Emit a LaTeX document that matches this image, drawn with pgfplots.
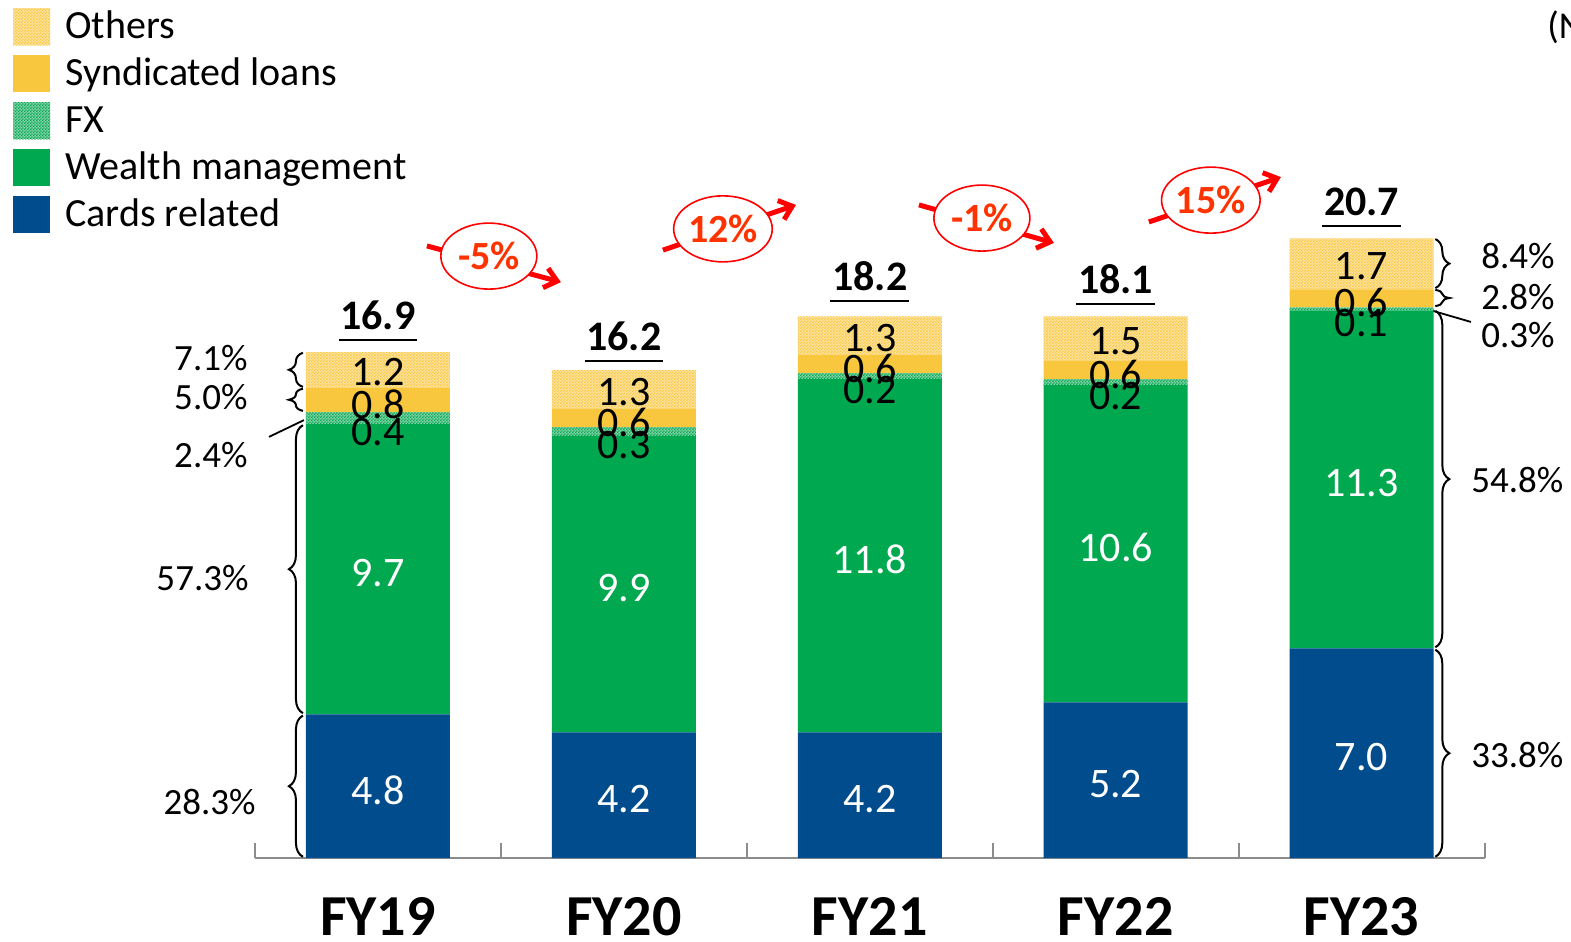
\documentclass[border=0pt]{standalone}
\usepackage{fontspec}
\setmainfont{Carlito}
\usepackage{pgfplots}
\usepackage{pgfplotstable}
\pgfplotsset{compat=1.18}
\usetikzlibrary{patterns,decorations.pathreplacing,arrows.meta,shapes.geometric}

\definecolor{cardblue}{HTML}{004C8C}
\definecolor{wmgreen}{HTML}{00A84F}
\definecolor{syndyel}{HTML}{F9C73D}
\definecolor{othlight}{HTML}{FBE4A6}
\definecolor{fxlight}{HTML}{86D2A8}
\definecolor{arrred}{HTML}{FF0000}
\definecolor{txtred}{HTML}{FF3300}
\definecolor{axgray}{HTML}{8C8C8C}

\pgfdeclarepatternformonly{checker}{\pgfqpoint{0pt}{0pt}}{\pgfqpoint{1.6pt}{1.6pt}}{\pgfqpoint{1.6pt}{1.6pt}}{%
  \pgfpathrectangle{\pgfqpoint{0pt}{0pt}}{\pgfqpoint{0.8pt}{0.8pt}}%
  \pgfpathrectangle{\pgfqpoint{0.8pt}{0.8pt}}{\pgfqpoint{0.8pt}{0.8pt}}%
  \pgfusepath{fill}}

\pgfplotstableread{
x cards wealth fx synd others
0 4.8 9.7 0.4 0.8 1.2
1 4.2 9.9 0.3 0.6 1.3
2 4.2 11.8 0.2 0.6 1.3
3 5.2 10.6 0.2 0.6 1.5
4 7.0 11.3 0.1 0.6 1.7
}\datatable

\tikzset{
  pct/.style={font=\fontsize{18.5bp}{22bp}\selectfont, inner sep=0pt},
  tot/.style={font=\fontsize{21bp}{25bp}\selectfont\bfseries},
  brc/.style={decorate, decoration={brace, amplitude=7bp}, line width=1bp},
  growarr/.style={arrred, line width=2.5bp, -{Straight Barb[length=6bp,width=10bp]}},
  ell/.style={ellipse, draw=arrred, fill=white, line width=0.8bp, minimum width=48bp, minimum height=33bp, inner sep=0pt, text=txtred, font=\fontsize{20bp}{24bp}\selectfont\bfseries},
}

\begin{document}
\begin{tikzpicture}
\useasboundingbox (-127.5bp,-42bp) rectangle (658bp,429bp);
\begin{axis}[
  at={(0,0)}, anchor=south west,
  x=122.95bp, y=14.965bp,
  xmin=-0.5, xmax=4.5, ymin=0, ymax=23,
  ybar stacked, bar width=72bp,
  axis x line*=bottom, axis y line=none,
  x axis line style={draw=axgray, line width=1bp, -},
  xtick={0,1,2,3,4},
  xticklabels={FY19,FY20,FY21,FY22,FY23},
  major tick length=0pt,
  xticklabel style={font=\fontsize{29bp}{33bp}\selectfont\bfseries, anchor=base, inner sep=0pt, yshift=-38.5bp},
  extra x ticks={-0.5,0.5,1.5,2.5,3.5,4.5},
  extra x tick labels={},
  extra x tick style={major tick length=7.5bp, tick align=inside, tick style={draw=axgray, line width=1bp}},
  clip=false,
  point meta=rawy,
  nodes near coords={\pgfmathprintnumber[fixed,fixed zerofill,precision=1,assume math mode=true]{\pgfplotspointmeta}},
  every node near coord/.append style={anchor=center, yshift=-2bp, font=\fontsize{21bp}{25bp}\selectfont},
  legend style={at={(-0.1969,1.2347)}, anchor=north west, draw=none, fill=none, inner sep=0pt,
    font=\fontsize{20bp}{24bp}\selectfont, row sep=4.5bp, nodes={inner ysep=0pt, inner xsep=7.5bp, text height=14bp, text depth=4bp}},
  legend cell align=left,
  reverse legend,
  legend image code/.code={\fill[#1] (0bp,-8.5bp) rectangle (18.5bp,10bp);},
]
\addplot[draw=none, fill=cardblue, every node near coord/.append style={text=white}] table[x=x, y=cards] {\datatable};
\addlegendentry{Cards related}
\addplot[draw=none, fill=wmgreen, every node near coord/.append style={text=white}] table[x=x, y=wealth] {\datatable};
\addlegendentry{Wealth management}
\addplot[draw=none, fill=fxlight, postaction={pattern=checker, pattern color=wmgreen}, every node near coord/.append style={text=black, yshift=-5bp}] table[x=x, y=fx] {\datatable};
\addlegendentry{FX}
\addplot[draw=none, fill=syndyel, every node near coord/.append style={text=black}] table[x=x, y=synd] {\datatable};
\addlegendentry{Syndicated loans}
\addplot[draw=none, fill=othlight, postaction={pattern=checker, pattern color=syndyel}, every node near coord/.append style={text=black, yshift=1bp}] table[x=x, y=others] {\datatable};
\addlegendentry{Others}

% totals
\node[tot] at ([yshift=18.5bp]axis cs:0,16.9) {16.9};
\draw[line width=1bp] ([yshift=6bp]axis cs:-0.16,16.9) -- ([yshift=6bp]axis cs:0.16,16.9);
\node[tot] at ([yshift=18.5bp]axis cs:1,16.2) {16.2};
\draw[line width=1bp] ([yshift=6bp]axis cs:0.84,16.2) -- ([yshift=6bp]axis cs:1.16,16.2);
\node[tot] at ([yshift=18.5bp]axis cs:2,18.2) {18.2};
\draw[line width=1bp] ([yshift=6bp]axis cs:1.84,18.2) -- ([yshift=6bp]axis cs:2.16,18.2);
\node[tot] at ([yshift=18.5bp]axis cs:3,18.1) {18.1};
\draw[line width=1bp] ([yshift=6bp]axis cs:2.84,18.1) -- ([yshift=6bp]axis cs:3.16,18.1);
\node[tot] at ([yshift=18.5bp]axis cs:4,20.7) {20.7};
\draw[line width=1bp] ([yshift=6bp]axis cs:3.84,20.7) -- ([yshift=6bp]axis cs:4.16,20.7);

% growth arrow anchor points
\coordinate (a1s) at (axis cs:0.199,20.45); \coordinate (a1e) at (axis cs:0.744,19.24); \coordinate (e1) at (axis cs:0.451,20.11);
\coordinate (a2s) at (axis cs:1.159,20.31); \coordinate (a2e) at (axis cs:1.700,21.82); \coordinate (e2) at (axis cs:1.403,21.02);
\coordinate (a3s) at (axis cs:2.200,21.82); \coordinate (a3e) at (axis cs:2.749,20.55); \coordinate (e3) at (axis cs:2.456,21.38);
\coordinate (a4s) at (axis cs:3.135,21.25); \coordinate (a4e) at (axis cs:3.672,22.75); \coordinate (e4) at (axis cs:3.387,21.98);

% left braces FY19
\draw[brc] (axis cs:-0.305,0.04) -- (axis cs:-0.305,4.76);
\draw[brc] (axis cs:-0.305,4.84) -- (axis cs:-0.305,14.46);
\draw[brc] (axis cs:-0.305,14.94) -- (axis cs:-0.305,15.68);
\draw[brc] (axis cs:-0.305,15.74) -- (axis cs:-0.305,16.88);
\draw[line width=0.9bp] (axis cs:-0.443,14.07) -- (axis cs:-0.301,14.63);
\node[pct, anchor=east] at (axis cs:-0.5287,16.71) {7.1\%};
\node[pct, anchor=east] at (axis cs:-0.5287,15.40) {5.0\%};
\node[pct, anchor=east] at (axis cs:-0.5287,13.46) {2.4\%};
\node[pct, anchor=east] at (axis cs:-0.5246,9.355) {57.3\%};
\node[pct, anchor=east] at (axis cs:-0.496,1.871) {28.3\%};

% right braces FY23
\draw[brc] (axis cs:4.300,20.68) -- (axis cs:4.300,19.04);
\draw[brc] (axis cs:4.300,18.98) -- (axis cs:4.300,18.44);
\draw[brc] (axis cs:4.300,18.28) -- (axis cs:4.300,7.04);
\draw[brc] (axis cs:4.300,6.96) -- (axis cs:4.300,0.04);
\draw[line width=0.9bp] (axis cs:4.290,18.28) -- (axis cs:4.445,17.91);
\node[pct, anchor=west] at (axis cs:4.4856,20.11) {8.4\%};
\node[pct, anchor=west] at (axis cs:4.4856,18.74) {2.8\%};
\node[pct, anchor=west] at (axis cs:4.4856,17.47) {0.3\%};
\node[pct, anchor=west] at (axis cs:4.4449,12.63) {54.8\%};
\node[pct, anchor=west] at (axis cs:4.4449,3.44) {33.8\%};

% unit note (cut at the right edge)
\node[anchor=west, inner sep=0pt, font=\fontsize{19bp}{22bp}\selectfont] at (axis cs:4.754,27.76) {(N};
\end{axis}
% growth arrows and ovals on top
\draw[growarr] (a1s) -- (a1e);
\node[ell] at (e1) {-5\%};
\draw[growarr] (a2s) -- (a2e);
\node[ell] at (e2) {12\%};
\draw[growarr] (a3s) -- (a3e);
\node[ell] at (e3) {-1\%};
\draw[growarr] (a4s) -- (a4e);
\node[ell] at (e4) {15\%};
\end{tikzpicture}
\end{document}
